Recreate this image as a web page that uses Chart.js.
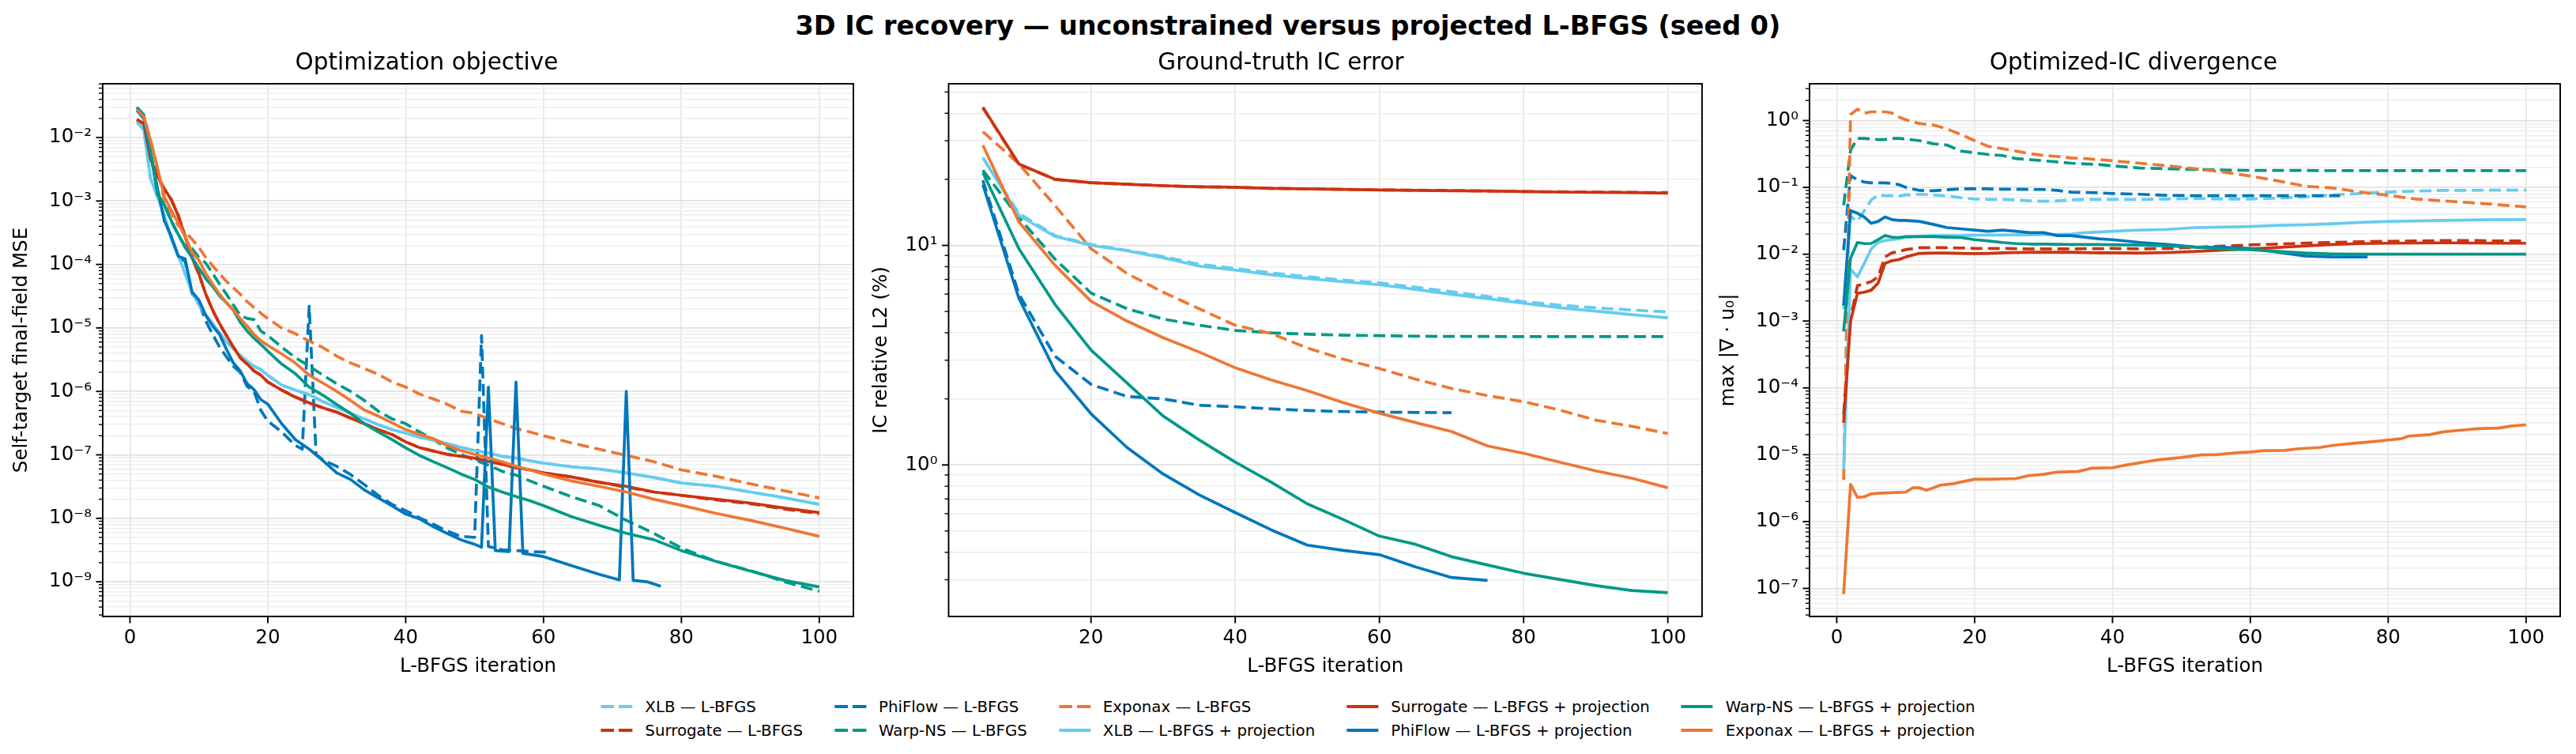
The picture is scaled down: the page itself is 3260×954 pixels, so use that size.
<!DOCTYPE html>
<html>
<head>
<meta charset="utf-8">
<script src="https://cdn.jsdelivr.net/npm/chart.js@4.4.1/dist/chart.umd.min.js"></script>
<style>
  body { margin: 0; width: 3260px; height: 954px; background: #fff; position: relative; overflow: hidden;
         font-family: "DejaVu Sans", sans-serif; color: #000; }
  #suptitle { position: absolute; top: 12px; left: 0; width: 3260px; text-align: center;
              font-weight: bold; font-size: 33.5px; line-height: 42px; }
  .panel { position: absolute; top: 56px; height: 804px; }
  #legend { position: absolute; top: 879px; left: 50%; transform: translateX(-50%);
            display: grid; grid-template-rows: 30px 30px; grid-auto-flow: column; column-gap: 40px;
            font-size: 19.8px; }
  .item { display: flex; align-items: center; white-space: nowrap; }
  .swatch { width: 40px; height: 4px; margin-right: 16px; }
</style>
</head>
<body>
<div id="suptitle">3D IC recovery — unconstrained versus projected L-BFGS (seed 0)</div>
<div class="panel" style="left:0px; width:1090px;"><canvas id="objChart"></canvas></div>
<div class="panel" style="left:1088px; width:1076px;"><canvas id="gtChart"></canvas></div>
<div class="panel" style="left:2160px; width:1090px;"><canvas id="divChart"></canvas></div>
<div id="legend"></div>

<script>
// Series, in plotting order
const SERIES_LABELS = [
  "XLB — L-BFGS", "Surrogate — L-BFGS", "PhiFlow — L-BFGS", "Warp-NS — L-BFGS", "Exponax — L-BFGS",
  "XLB — L-BFGS + projection", "Surrogate — L-BFGS + projection", "PhiFlow — L-BFGS + projection",
  "Warp-NS — L-BFGS + projection", "Exponax — L-BFGS + projection"
];
const SERIES_COLORS = ["#66CCEE", "#CC3311", "#0077BB", "#009988", "#EE7733",
                       "#66CCEE", "#CC3311", "#0077BB", "#009988", "#EE7733"];
const SERIES_DASHED = [true, true, true, true, true, false, false, false, false, false];

// Panel 1: optimization objective (self-target final-field MSE)
const OBJ_ITERS = [1,2,3,4,5,6,7,8,9,10,11,12,13,14,15,16,17,18,19,20,22,24,26,28,30,32,34,36,38,40,42,44,46,48,50,52,54,56,58,60,64,68,72,76,80,85,90,95,100];
const OBJ_XLB_LBFGS = [1.76e-2,1.32e-2,2.24e-3,1.15e-3,5.9e-4,2.5e-4,1.4e-4,7.2e-5,3.7e-5,2.3e-5,1.6e-5,1.17e-5,8.3e-6,6.0e-6,4.7e-6,3.7e-6,3.0e-6,2.5e-6,2.2e-6,1.8e-6,1.26e-6,1.05e-6,8.9e-7,6.9e-7,5.6e-7,4.5e-7,3.7e-7,3.0e-7,2.5e-7,2.2e-7,1.9e-7,1.7e-7,1.5e-7,1.32e-7,1.17e-7,1.07e-7,9.5e-8,8.9e-8,8.1e-8,7.4e-8,6.5e-8,6.0e-8,5.2e-8,4.4e-8,3.6e-8,3.2e-8,2.6e-8,2.1e-8,1.66e-8];
const OBJ_SURR_LBFGS = [1.93e-2,1.64e-2,4.6e-3,2.5e-3,1.5e-3,1.05e-3,6.0e-4,2.8e-4,1.3e-4,7.0e-5,3.4e-5,1.9e-5,1.15e-5,7.6e-6,5.0e-6,3.4e-6,2.7e-6,2.1e-6,1.8e-6,1.4e-6,1.05e-6,8.2e-7,6.6e-7,5.5e-7,4.7e-7,3.8e-7,3.1e-7,2.5e-7,2.1e-7,1.6e-7,1.3e-7,1.15e-7,1.02e-7,9.5e-8,8.9e-8,7.9e-8,7.1e-8,6.3e-8,5.8e-8,5.2e-8,4.5e-8,3.7e-8,3.1e-8,2.6e-8,2.3e-8,1.95e-8,1.7e-8,1.4e-8,1.18e-8];
const OBJ_WARP_LBFGS = [3.0e-2,2.3e-2,6.0e-3,1.3e-3,8.5e-4,4.8e-4,2.9e-4,1.95e-4,1.78e-4,1.29e-4,1.05e-4,7.2e-5,4.9e-5,3.4e-5,2.3e-5,1.58e-5,1.41e-5,1.35e-5,8.9e-6,7.6e-6,5.0e-6,3.4e-6,2.5e-6,1.8e-6,1.32e-6,1.0e-6,7.2e-7,4.9e-7,3.7e-7,3.1e-7,2.3e-7,1.74e-7,1.29e-7,1.02e-7,8.3e-8,6.9e-8,5.5e-8,4.8e-8,3.9e-8,3.2e-8,2.2e-8,1.6e-8,9.3e-9,5.8e-9,3.4e-9,2.1e-9,1.5e-9,1.0e-9,7.1e-10];
const OBJ_EXPO_LBFGS = [2.8e-2,2.2e-2,9.0e-3,3.2e-3,1.0e-3,6.5e-4,4.1e-4,3.3e-4,2.5e-4,1.86e-4,1.29e-4,9.5e-5,7.2e-5,5.4e-5,4.3e-5,3.4e-5,2.6e-5,2.1e-5,1.7e-5,1.41e-5,1.0e-5,8.1e-6,6.2e-6,4.9e-6,3.6e-6,2.8e-6,2.3e-6,1.86e-6,1.41e-6,1.17e-6,9.1e-7,7.6e-7,6.3e-7,4.9e-7,4.5e-7,3.7e-7,3.1e-7,2.6e-7,2.3e-7,2.0e-7,1.55e-7,1.23e-7,9.8e-8,7.8e-8,5.8e-8,4.6e-8,3.5e-8,2.7e-8,2.1e-8];
const OBJ_XLB_PROJ = [1.76e-2,1.32e-2,2.24e-3,1.15e-3,5.9e-4,2.5e-4,1.4e-4,7.2e-5,3.7e-5,2.3e-5,1.6e-5,1.17e-5,8.3e-6,6.0e-6,4.7e-6,3.7e-6,3.0e-6,2.5e-6,2.2e-6,1.8e-6,1.26e-6,1.05e-6,8.9e-7,6.9e-7,5.6e-7,4.5e-7,3.7e-7,3.0e-7,2.5e-7,2.2e-7,1.9e-7,1.7e-7,1.5e-7,1.32e-7,1.17e-7,1.07e-7,9.5e-8,8.9e-8,8.1e-8,7.4e-8,6.5e-8,6.0e-8,5.2e-8,4.4e-8,3.6e-8,3.2e-8,2.6e-8,2.1e-8,1.66e-8];
const OBJ_SURR_PROJ = [1.93e-2,1.66e-2,4.5e-3,2.5e-3,1.55e-3,1.05e-3,5.9e-4,2.75e-4,1.29e-4,7.2e-5,3.4e-5,1.9e-5,1.17e-5,7.6e-6,5.0e-6,3.4e-6,2.7e-6,2.1e-6,1.8e-6,1.4e-6,1.05e-6,8.1e-7,6.6e-7,5.5e-7,4.7e-7,3.8e-7,3.1e-7,2.5e-7,2.1e-7,1.6e-7,1.3e-7,1.15e-7,1.02e-7,9.5e-8,8.9e-8,7.9e-8,7.1e-8,6.3e-8,5.8e-8,5.2e-8,4.5e-8,3.7e-8,3.2e-8,2.6e-8,2.3e-8,2.0e-8,1.74e-8,1.45e-8,1.23e-8];
const OBJ_WARP_PROJ = [2.97e-2,2.24e-2,5.9e-3,1.26e-3,8.7e-4,4.9e-4,3.0e-4,1.86e-4,1.29e-4,8.7e-5,6.0e-5,4.5e-5,3.2e-5,2.5e-5,1.9e-5,1.23e-5,8.9e-6,6.9e-6,5.5e-6,4.3e-6,2.7e-6,1.9e-6,1.17e-6,8.7e-7,6.2e-7,4.5e-7,3.1e-7,2.3e-7,1.74e-7,1.29e-7,9.8e-8,7.8e-8,6.3e-8,5.0e-8,4.1e-8,3.1e-8,2.6e-8,2.2e-8,1.9e-8,1.58e-8,1.07e-8,7.8e-9,5.8e-9,4.6e-9,3.1e-9,2.1e-9,1.48e-9,1.05e-9,8.3e-10];
const OBJ_EXPO_PROJ = [2.75e-2,2.14e-2,8.9e-3,3.3e-3,1.15e-3,7.1e-4,4.5e-4,2.75e-4,1.55e-4,1.17e-4,7.2e-5,4.9e-5,3.4e-5,2.5e-5,1.9e-5,1.41e-5,1.07e-5,7.9e-6,6.3e-6,5.3e-6,3.9e-6,2.8e-6,1.8e-6,1.35e-6,1.0e-6,7.2e-7,5.1e-7,4.1e-7,3.2e-7,2.5e-7,2.1e-7,1.8e-7,1.41e-7,1.17e-7,1.02e-7,8.9e-8,7.8e-8,6.6e-8,5.8e-8,5.0e-8,3.9e-8,3.2e-8,2.6e-8,2.0e-8,1.6e-8,1.2e-8,9.3e-9,7.0e-9,5.2e-9];
// PhiFlow runs stop early and have line-search spikes
const OBJ_ITERS_PHIFLOW_LBFGS = [1,2,3,4,5,6,7,8,9,10,11,12,13,14,15,16,17,18,19,20,22,24,25,26,27,28,30,32,34,36,38,40,42,44,46,48,50,51,52,54,56,58,61];
const OBJ_PHIFLOW_LBFGS = [2.7e-2,2.0e-2,5.4e-3,1.55e-3,4.9e-4,2.75e-4,1.35e-4,1.12e-4,3.5e-5,2.5e-5,1.29e-5,7.9e-6,5.0e-6,3.5e-6,2.5e-6,2.0e-6,1.2e-6,1.0e-6,5.0e-7,3.4e-7,2.3e-7,1.41e-7,1.23e-7,2.2e-5,1.02e-7,8.3e-8,6.6e-8,4.9e-8,3.4e-8,2.3e-8,1.66e-8,1.32e-8,1.02e-8,8.1e-9,6.3e-9,5.2e-9,5.0e-9,7.6e-6,3.6e-9,3.2e-9,3.1e-9,3.0e-9,2.9e-9];
const OBJ_ITERS_PHIFLOW_PROJ = [1,2,3,4,5,6,7,8,9,10,11,12,13,14,15,16,17,18,19,20,22,24,26,28,30,32,34,36,38,40,42,44,46,48,50,51,52,53,55,56,57,60,64,68,71,72,73,75,77];
const OBJ_PHIFLOW_PROJ = [2.69e-2,2.04e-2,5.4e-3,1.55e-3,4.9e-4,2.75e-4,1.35e-4,1.23e-4,3.7e-5,2.75e-5,1.58e-5,1.07e-5,7.9e-6,4.6e-6,2.8e-6,2.1e-6,1.32e-6,1.07e-6,7.4e-7,6.3e-7,3.1e-7,1.74e-7,1.23e-7,8.1e-8,5.2e-8,4.1e-8,2.8e-8,2.1e-8,1.58e-8,1.17e-8,9.8e-9,7.4e-9,5.8e-9,4.6e-9,3.9e-9,3.5e-9,1.17e-6,3.1e-9,3.0e-9,1.4e-6,2.8e-9,2.5e-9,1.8e-9,1.32e-9,1.07e-9,1.0e-6,1.05e-9,1.0e-9,8.5e-10];

// Panel 2: ground-truth IC error (%), evaluated every 5 iterations
const GT_ITERS = [5,10,15,20,25,30,35,40,45,50,55,60,65,70,75,80,85,90,95,100];
const GT_XLB_LBFGS = [25.1,14.0,11.1,10.1,9.5,8.9,8.2,7.85,7.5,7.2,6.95,6.75,6.45,6.15,5.85,5.55,5.35,5.2,5.08,4.98];
const GT_SURR_LBFGS = [42.4,23.4,20.0,19.3,19.0,18.7,18.5,18.4,18.2,18.1,18.0,17.9,17.85,17.8,17.7,17.6,17.55,17.5,17.45,17.4];
const GT_PHIFLOW_LBFGS = [19.8,6.0,3.13,2.33,2.05,2.0,1.87,1.84,1.8,1.77,1.75,1.74,1.735,1.73];
const GT_WARP_LBFGS = [22.0,13.4,8.67,6.07,5.15,4.62,4.33,4.1,4.0,3.94,3.9,3.88,3.86,3.85,3.85,3.84,3.84,3.84,3.84,3.84];
const GT_EXPO_LBFGS = [33.0,23.5,15.2,9.66,7.45,6.12,5.15,4.33,3.97,3.41,3.03,2.75,2.46,2.23,2.07,1.94,1.78,1.6,1.5,1.39];
const GT_XLB_PROJ = [25.1,13.7,11.0,10.0,9.46,8.79,8.06,7.72,7.35,7.07,6.83,6.62,6.31,5.99,5.72,5.45,5.2,5.02,4.84,4.68];
const GT_SURR_PROJ = [42.6,23.5,20.0,19.3,19.0,18.7,18.5,18.4,18.2,18.1,18.0,17.9,17.8,17.75,17.7,17.6,17.5,17.45,17.4,17.3];
const GT_PHIFLOW_PROJ = [18.9,5.74,2.69,1.71,1.2,0.91,0.731,0.607,0.506,0.431,0.408,0.39,0.343,0.307,0.298];
const GT_WARP_PROJ = [21.5,9.66,5.39,3.34,2.36,1.67,1.3,1.03,0.834,0.665,0.564,0.474,0.435,0.382,0.35,0.321,0.301,0.282,0.268,0.262];
const GT_EXPO_PROJ = [28.6,12.8,8.12,5.57,4.52,3.8,3.27,2.77,2.44,2.18,1.92,1.72,1.56,1.42,1.22,1.13,1.03,0.94,0.87,0.787];

// Panel 3: optimized-IC divergence, max |div u0|
const DIV_ITERS = [1,2,3,4,5,6,7,8,9,10,12,14,16,18,20,22,24,26,28,30,32,34,36,38,40,44,48,52,56,60,64,68,72,76,80,84,88,92,96,100];
const DIV_XLB_LBFGS = [1.5e-3,0.037,0.031,0.045,0.065,0.077,0.075,0.075,0.074,0.077,0.079,0.077,0.074,0.070,0.067,0.066,0.066,0.065,0.063,0.062,0.063,0.065,0.066,0.066,0.066,0.066,0.067,0.068,0.067,0.067,0.069,0.072,0.077,0.081,0.085,0.088,0.090,0.090,0.091,0.091];
const DIV_SURR_LBFGS = [4e-5,1.1e-3,3.4e-3,3.6e-3,3.9e-3,4.6e-3,9.1e-3,0.0105,0.011,0.0117,0.0125,0.0125,0.0125,0.0124,0.0122,0.0122,0.0122,0.0121,0.012,0.012,0.012,0.012,0.0121,0.0121,0.0122,0.012,0.0122,0.0127,0.0132,0.0138,0.0142,0.0147,0.015,0.0154,0.0156,0.0158,0.016,0.016,0.0158,0.0158];
const DIV_WARP_LBFGS = [0.054,0.36,0.54,0.54,0.53,0.52,0.52,0.54,0.54,0.53,0.5,0.45,0.43,0.35,0.33,0.31,0.30,0.27,0.26,0.25,0.24,0.23,0.225,0.22,0.21,0.195,0.19,0.185,0.182,0.18,0.179,0.179,0.178,0.178,0.178,0.178,0.178,0.178,0.178,0.178];
const DIV_EXPO_LBFGS = [4.2e-6,1.23,1.48,1.29,1.35,1.35,1.35,1.30,1.13,1.03,0.90,0.86,0.75,0.62,0.50,0.41,0.38,0.35,0.32,0.30,0.29,0.275,0.27,0.26,0.25,0.23,0.21,0.19,0.17,0.148,0.125,0.104,0.098,0.085,0.076,0.067,0.063,0.059,0.055,0.051];
const DIV_XLB_PROJ = [6e-6,0.006,0.0046,0.0073,0.012,0.015,0.016,0.0165,0.017,0.018,0.0185,0.019,0.019,0.019,0.0192,0.0193,0.0194,0.0195,0.0195,0.0196,0.0198,0.020,0.021,0.0215,0.022,0.023,0.0235,0.025,0.0255,0.026,0.027,0.0275,0.0285,0.030,0.031,0.0315,0.032,0.0325,0.033,0.033];
const DIV_SURR_PROJ = [3e-5,1.0e-3,2.6e-3,2.7e-3,2.9e-3,3.7e-3,7.3e-3,8.0e-3,8.3e-3,9.1e-3,0.0103,0.0104,0.0104,0.0103,0.0102,0.0103,0.0105,0.0106,0.0107,0.0107,0.0107,0.0107,0.0106,0.0105,0.0105,0.0104,0.0106,0.011,0.0115,0.012,0.0126,0.0133,0.014,0.0144,0.0146,0.0147,0.0148,0.0147,0.0146,0.0146];
const DIV_WARP_PROJ = [7e-4,0.0087,0.015,0.0144,0.0145,0.0166,0.019,0.018,0.0178,0.0183,0.0183,0.0183,0.018,0.0178,0.0165,0.0158,0.015,0.0144,0.0142,0.0142,0.0141,0.014,0.014,0.014,0.0139,0.0137,0.0133,0.0128,0.012,0.0117,0.011,0.0104,0.0101,0.010,0.010,0.010,0.010,0.010,0.010,0.010];
const DIV_ITERS_PHIFLOW_LBFGS = [1,2,3,4,5,6,7,8,9,10,12,14,16,18,20,22,24,26,28,30,32,34,36,38,40,44,48,52,56,60,64,68,72,73];
const DIV_PHIFLOW_LBFGS = [0.0115,0.15,0.13,0.12,0.117,0.117,0.117,0.115,0.11,0.1,0.09,0.089,0.092,0.095,0.095,0.095,0.094,0.094,0.093,0.093,0.09,0.085,0.084,0.083,0.081,0.079,0.076,0.075,0.075,0.075,0.075,0.075,0.075,0.075];
const DIV_ITERS_PHIFLOW_PROJ = [1,2,3,4,5,6,7,8,9,10,12,14,16,18,20,22,24,26,28,30,32,34,36,38,40,44,48,52,56,60,64,68,72,76,77];
const DIV_PHIFLOW_PROJ = [1.7e-3,0.045,0.041,0.036,0.029,0.031,0.036,0.033,0.032,0.032,0.031,0.028,0.025,0.024,0.023,0.022,0.023,0.022,0.021,0.021,0.019,0.019,0.018,0.017,0.0165,0.015,0.014,0.0128,0.0127,0.0122,0.0107,0.0094,0.0091,0.0091,0.0091];
const DIV_ITERS_EXPO_PROJ = [1,2,3,4,5,6,8,10,11,12,13,14,15,17,18,20,22,26,28,30,32,35,37,40,42,45,47,50,53,55,58,60,62,65,67,70,72,75,78,80,82,83,86,88,90,93,96,98,100];
const DIV_EXPO_PROJ = [8.2e-8,3.6e-6,2.3e-6,2.35e-6,2.6e-6,2.65e-6,2.7e-6,2.75e-6,3.2e-6,3.2e-6,2.95e-6,3.2e-6,3.5e-6,3.7e-6,3.9e-6,4.3e-6,4.3e-6,4.4e-6,4.9e-6,5.1e-6,5.5e-6,5.6e-6,6.3e-6,6.4e-6,7.0e-6,7.9e-6,8.5e-6,9.1e-6,1.0e-5,1.0e-5,1.07e-5,1.1e-5,1.15e-5,1.16e-5,1.23e-5,1.28e-5,1.38e-5,1.48e-5,1.58e-5,1.66e-5,1.75e-5,1.9e-5,2.0e-5,2.2e-5,2.3e-5,2.45e-5,2.5e-5,2.7e-5,2.8e-5];

const X_TICKS = [0, 20, 40, 60, 80, 100];

Chart.defaults.font.family = '"DejaVu Sans", sans-serif';
Chart.defaults.color = '#000';

const SUP = {'-': '⁻', '0': '⁰', '1': '¹', '2': '²', '3': '³', '4': '⁴', '5': '⁵', '6': '⁶', '7': '⁷', '8': '⁸', '9': '⁹'};
function isDecade(v) {
  const e = Math.round(Math.log10(v));
  return Math.abs(v / Math.pow(10, e) - 1) < 1e-6;
}
function decadeLabel(v) {
  const e = String(Math.round(Math.log10(v)));
  return '10' + e.split('').map(c => SUP[c]).join('');
}
function logTicks(min, max) {
  const ticks = [];
  for (let e = Math.floor(Math.log10(min)); e <= Math.ceil(Math.log10(max)); e++) {
    for (let m = 1; m <= 9; m++) {
      const v = parseFloat((m * Math.pow(10, e)).toPrecision(12));
      if (v >= min && v <= max) ticks.push({ value: v });
    }
  }
  return ticks;
}

function pts(iters, vals) {
  return vals.map((v, i) => ({ x: iters[i], y: v }));
}

function buildDatasets(series) {
  return series.map((data, i) => ({
    label: SERIES_LABELS[i],
    data: data,
    borderColor: SERIES_COLORS[i],
    backgroundColor: SERIES_COLORS[i],
    borderWidth: 3.7,
    borderDash: SERIES_DASHED[i] ? [15, 7] : [],
    borderJoinStyle: 'round',
    borderCapStyle: 'butt',
    pointRadius: 0,
    tension: 0,
    fill: false,
    order: series.length - i
  }));
}

// black frame + outward tick marks (matplotlib style)
const axesFrame = {
  id: 'axesFrame',
  afterDraw(chart) {
    const { ctx, chartArea: a, scales: { x, y } } = chart;
    ctx.save();
    ctx.strokeStyle = '#000';
    ctx.lineWidth = 1.9;
    ctx.strokeRect(a.left, a.top, a.right - a.left, a.bottom - a.top);
    x.ticks.forEach(t => {
      const px = x.getPixelForValue(t.value);
      ctx.beginPath(); ctx.moveTo(px, a.bottom); ctx.lineTo(px, a.bottom + 8.5); ctx.stroke();
    });
    y.ticks.forEach(t => {
      const major = isDecade(t.value);
      const py = y.getPixelForValue(t.value);
      ctx.lineWidth = major ? 1.9 : 1.4;
      ctx.beginPath(); ctx.moveTo(a.left, py); ctx.lineTo(a.left - (major ? 8.5 : 5), py); ctx.stroke();
    });
    ctx.restore();
  }
};

function makeChart(id, cfg) {
  new Chart(document.getElementById(id), {
    type: 'line',
    data: { datasets: buildDatasets(cfg.series) },
    options: {
      responsive: true,
      maintainAspectRatio: false,
      animation: false,
      layout: { padding: { right: 10 } },
      plugins: {
        legend: { display: false },
        tooltip: { enabled: false },
        title: { display: true, text: cfg.title, color: '#000',
                 font: { size: 29.5, weight: 'normal' }, padding: { top: 7, bottom: 7.6 } }
      },
      scales: {
        x: {
          type: 'linear', min: cfg.xMin, max: cfg.xMax,
          afterBuildTicks: s => { s.ticks = X_TICKS.filter(v => v >= cfg.xMin && v <= cfg.xMax).map(v => ({ value: v })); },
          afterFit: s => { s.height = 80; },
          ticks: { autoSkip: false, maxRotation: 0, padding: 13, font: { size: 24.5 }, color: '#000',
                   callback: v => String(v) },
          grid: { color: '#e6e6e6', lineWidth: 1.7, drawTicks: false },
          border: { display: false },
          title: { display: true, text: 'L-BFGS iteration', color: '#000', font: { size: 24.5 },
                   padding: { top: 0, bottom: 2 } }
        },
        y: {
          type: 'logarithmic', min: cfg.yMin, max: cfg.yMax,
          afterBuildTicks: s => { s.ticks = logTicks(cfg.yMin, cfg.yMax); },
          afterFit: s => { s.width = cfg.yWidth; },
          ticks: { autoSkip: false, padding: 14, font: { size: 24.5 }, color: '#000',
                   callback: v => isDecade(v) ? decadeLabel(v) : '' },
          grid: {
            drawTicks: false,
            color: c => (c.tick && isDecade(c.tick.value)) ? '#e2e2e2' : '#eeeeee',
            lineWidth: c => (c.tick && isDecade(c.tick.value)) ? 1.7 : 1.4
          },
          border: { display: false },
          title: { display: true, text: cfg.yTitle, color: '#000', font: { size: 24.5 },
                   padding: { top: 13, bottom: 0 } }
        }
      }
    },
    plugins: [axesFrame]
  });
}

makeChart('objChart', {
  title: 'Optimization objective', yTitle: 'Self-target final-field MSE',
  xMin: -3.95, xMax: 104.95, yMin: 2.84e-10, yMax: 7.03e-2, yWidth: 130,
  series: [
    pts(OBJ_ITERS, OBJ_XLB_LBFGS), pts(OBJ_ITERS, OBJ_SURR_LBFGS),
    pts(OBJ_ITERS_PHIFLOW_LBFGS, OBJ_PHIFLOW_LBFGS), pts(OBJ_ITERS, OBJ_WARP_LBFGS), pts(OBJ_ITERS, OBJ_EXPO_LBFGS),
    pts(OBJ_ITERS, OBJ_XLB_PROJ), pts(OBJ_ITERS, OBJ_SURR_PROJ),
    pts(OBJ_ITERS_PHIFLOW_PROJ, OBJ_PHIFLOW_PROJ), pts(OBJ_ITERS, OBJ_WARP_PROJ), pts(OBJ_ITERS, OBJ_EXPO_PROJ)
  ]
});

makeChart('gtChart', {
  title: 'Ground-truth IC error', yTitle: 'IC relative L2 (%)',
  xMin: 0.25, xMax: 104.75, yMin: 0.204, yMax: 54.5, yWidth: 112.5,
  series: [
    pts(GT_ITERS, GT_XLB_LBFGS), pts(GT_ITERS, GT_SURR_LBFGS), pts(GT_ITERS, GT_PHIFLOW_LBFGS),
    pts(GT_ITERS, GT_WARP_LBFGS), pts(GT_ITERS, GT_EXPO_LBFGS),
    pts(GT_ITERS, GT_XLB_PROJ), pts(GT_ITERS, GT_SURR_PROJ), pts(GT_ITERS, GT_PHIFLOW_PROJ),
    pts(GT_ITERS, GT_WARP_PROJ), pts(GT_ITERS, GT_EXPO_PROJ)
  ]
});

makeChart('divChart', {
  title: 'Optimized-IC divergence', yTitle: 'max |∇ · u₀|',
  xMin: -3.95, xMax: 104.95, yMin: 3.8e-8, yMax: 3.55, yWidth: 130,
  series: [
    pts(DIV_ITERS, DIV_XLB_LBFGS), pts(DIV_ITERS, DIV_SURR_LBFGS),
    pts(DIV_ITERS_PHIFLOW_LBFGS, DIV_PHIFLOW_LBFGS), pts(DIV_ITERS, DIV_WARP_LBFGS), pts(DIV_ITERS, DIV_EXPO_LBFGS),
    pts(DIV_ITERS, DIV_XLB_PROJ), pts(DIV_ITERS, DIV_SURR_PROJ),
    pts(DIV_ITERS_PHIFLOW_PROJ, DIV_PHIFLOW_PROJ), pts(DIV_ITERS, DIV_WARP_PROJ),
    pts(DIV_ITERS_EXPO_PROJ, DIV_EXPO_PROJ)
  ]
});

// Shared legend below the panels (5 columns, filled column by column)
const legend = document.getElementById('legend');
SERIES_LABELS.forEach((label, i) => {
  const item = document.createElement('div');
  item.className = 'item';
  const sw = document.createElement('span');
  sw.className = 'swatch';
  const c = SERIES_COLORS[i];
  sw.style.background = SERIES_DASHED[i]
    ? `linear-gradient(to right, ${c} 0 17px, transparent 17px 23px, ${c} 23px 40px)`
    : c;
  const txt = document.createElement('span');
  txt.textContent = label;
  item.appendChild(sw);
  item.appendChild(txt);
  legend.appendChild(item);
});
</script>
</body>
</html>
